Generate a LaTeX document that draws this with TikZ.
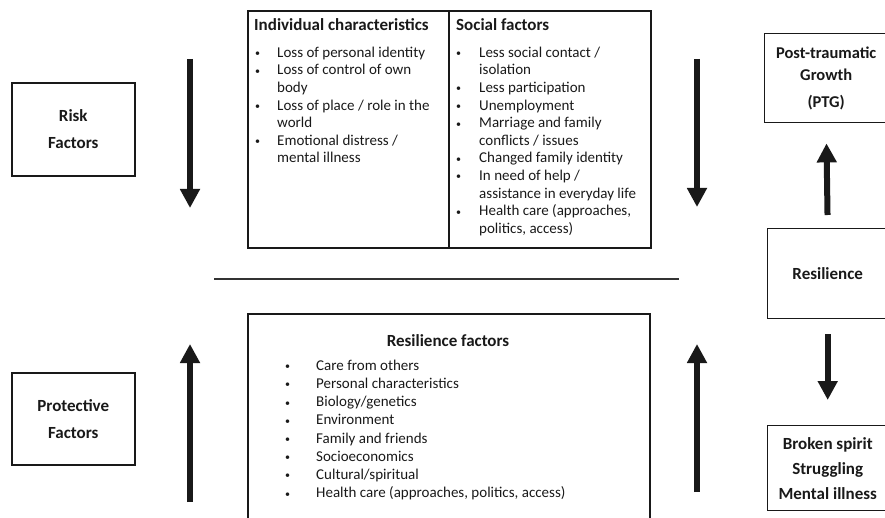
\documentclass[tikz,border=0pt]{standalone}
\usepackage{fontspec}
\setmainfont{Carlito}
\usetikzlibrary{arrows.meta,calc}
\tikzset{
  box/.style={draw=black!90, line width=1.6pt, inner sep=0pt},
  sidebox/.style={draw=black!90, line width=1.4pt, inner sep=0pt, minimum width=120pt},
  label text/.style={font=\bfseries\fontsize{17}{20}\selectfont, align=center, text=black!90},
  title text/.style={font=\bfseries\fontsize{17}{20}\selectfont, inner sep=0pt, text=black!90},
  list text/.style={font=\fontsize{15}{17.6}\selectfont, align=left, inner sep=0pt, text=black!90},
  bigarrow/.style={-{Triangle[length=19pt,width=19pt]}, line width=6pt, black!90},
  divider/.style={line width=1.8pt, black!80}
}
\newcommand{\bl}{\raisebox{0.6pt}{\fontsize{10}{10}\selectfont\textbullet}}

\begin{document}
\begin{tikzpicture}[x=1pt,y=-1pt]
  \clip (0,0) rectangle (885,518);

  % left column
  \node[box, minimum width=123pt, minimum height=93pt, anchor=north west] (risk) at (11,82) {};
  \node[label text] (risktext) at (risk.center) {Risk\\[7pt]Factors};
  \node[box, minimum width=123pt, minimum height=92pt, anchor=north west] (protect) at (11,372) {};
  \node[label text] (protecttext) at (protect.center) {Protective\\[7pt]Factors};

  \coordinate (riskfrom) at (190,59);
  \coordinate (riskto) at (190,208);
  \coordinate (protfrom) at (190,502);
  \coordinate (protto) at (190,344);
  \draw[bigarrow] (riskfrom) -- (riskto);
  \draw[bigarrow] (protfrom) -- (protto);

  % top box
  \node[box, minimum width=201pt, minimum height=237pt, anchor=north west] (indiv) at (247,10) {};
  \node[box, minimum width=202pt, minimum height=237pt, anchor=north west] (social) at (448,10) {};
  \node[title text, anchor=base west] (indivtitle) at (254,31) {Individual characteristics};
  \node[title text, anchor=base west] (socialtitle) at (456,31) {Social factors};
  \node[list text, anchor=north west] (indivlist) at (255,44.7) {%
    \begin{tabular}{@{}p{22pt}@{}l@{}}
      \bl & Loss of personal identity\\
      \bl & Loss of control of own\\
          & body\\
      \bl & Loss of place / role in the\\
          & world\\
      \bl & Emotional distress /\\
          & mental illness
    \end{tabular}};
  \node[list text, anchor=north west] (sociallist) at (456,44.7) {%
    \begin{tabular}{@{}p{23pt}@{}l@{}}
      \bl & Less social contact /\\
          & isolation\\
      \bl & Less participation\\
      \bl & Unemployment\\
      \bl & Marriage and family\\
          & conflicts / issues\\
      \bl & Changed family identity\\
      \bl & In need of help /\\
          & assistance in everyday life\\
      \bl & Health care (approaches,\\
          & politics, access)
    \end{tabular}};

  \coordinate (divleft) at (214,279);
  \coordinate (divright) at (679,279);
  \draw[divider] (divleft) -- (divright);

  % bottom box
  \node[box, minimum width=402pt, minimum height=220pt, anchor=north west] (resfactors) at (247,313) {};
  \node[title text, anchor=base] (restitle) at (448,346) {Resilience factors};
  \node[list text, font=\fontsize{15}{18.2}\selectfont, anchor=north west] (reslist) at (285,357.3) {%
    \begin{tabular}{@{}p{31pt}@{}l@{}}
      \bl & Care from others\\
      \bl & Personal characteristics\\
      \bl & Biology/genetics\\
      \bl & Environment\\
      \bl & Family and friends\\
      \bl & Socioeconomics\\
      \bl & Cultural/spiritual\\
      \bl & Health care (approaches, politics, access)
    \end{tabular}};

  \coordinate (socfrom) at (697,59);
  \coordinate (socto) at (697,207);
  \coordinate (resfrom) at (697,492);
  \coordinate (resto) at (697,344);
  \draw[bigarrow] (socfrom) -- (socto);
  \draw[bigarrow] (resfrom) -- (resto);

  % right column
  \node[sidebox, minimum width=123pt, minimum height=89pt, anchor=north west] (ptg) at (764,33) {};
  \node[label text, font=\bfseries\fontsize{16.5}{20}\selectfont] (ptgtext) at (ptg.center) {Post-traumatic\\[2pt]Growth\\[7pt](PTG)};
  \node[sidebox, minimum height=90pt, anchor=north west] (resilience) at (767,228) {};
  \node[label text] (resiltext) at (resilience.center) {Resilience};
  \node[sidebox, minimum height=85pt, anchor=north west] (broken) at (767,425) {};
  \node[label text] (brokentext) at (broken.center) {Broken spirit\\[5pt]Struggling\\[5pt]Mental illness};

  \draw[bigarrow, shorten <=13pt, shorten >=20pt] (resilience.north) -- (ptg.south);
  \draw[bigarrow, shorten <=15pt, shorten >=25pt] (resilience.south) -- (broken.north);
\end{tikzpicture}
\end{document}
